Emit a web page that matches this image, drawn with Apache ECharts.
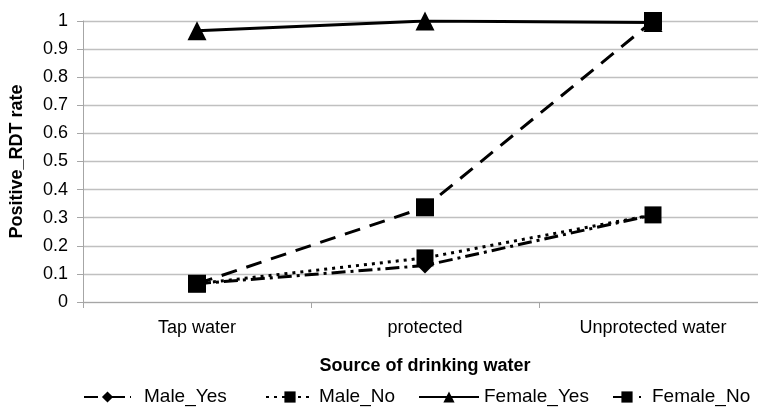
<!DOCTYPE html>
<html><head><meta charset="utf-8">
<script src="https://cdn.jsdelivr.net/npm/echarts@6/dist/echarts.min.js"></script>
<style>html,body{margin:0;padding:0;background:#fff}#c{width:758px;height:408px}</style>
</head><body><div id="c"></div>
<script>
const categories = ['Tap water', 'protected', 'Unprotected water'];
const yTicks = [0, 0.1, 0.2, 0.3, 0.4, 0.5, 0.6, 0.7, 0.8, 0.9, 1];
const maleYes = [0.065, 0.13, 0.31];
const maleNo = [0.065, 0.157, 0.31];
const femaleYes = [0.965, 1.0, 0.995];
const femaleNo = [0.065, 0.337, 1.0];
const seriesNames = ['Male_Yes', 'Male_No', 'Female_Yes', 'Female_No'];

const font = 'Liberation Sans, Arial, sans-serif';
const chart = echarts.init(document.getElementById('c'), null, {renderer: 'canvas'});
function mk(name, data, symbol, size, type, z) {
  return {
    name, type: 'line', data, symbol, symbolSize: size, z,
    lineStyle: {color: '#000', width: 3, type},
    itemStyle: {color: '#000'},
    animation: false
  };
}
function lg(name, left, w, pad) {
  return {
    data: [name], top: 383, left, itemWidth: w, itemHeight: 14, padding: 2,
    textStyle: {color: '#000', fontSize: 19, fontFamily: font, lineHeight: 24, padding: [0, 0, 0, pad]}
  };
}
chart.setOption({
  animation: false,
  grid: {left: 83, width: 684, top: 21, bottom: 106, outerBoundsMode: 'none', containLabel: false},
  xAxis: {
    type: 'category', data: categories, boundaryGap: true,
    axisLine: {lineStyle: {color: '#a6a6a6', width: 1}},
    axisTick: {show: true, alignWithLabel: false, length: 6, lineStyle: {color: '#a6a6a6'}},
    axisLabel: {color: '#000', fontSize: 18, fontFamily: font, margin: 17},
    name: 'Source of drinking water', nameLocation: 'middle', nameGap: 55,
    nameTextStyle: {color: '#000', fontSize: 18, fontWeight: 'bold', fontFamily: font}
  },
  yAxis: {
    type: 'value', min: 0, max: 1, interval: 0.1,
    axisLine: {show: true, lineStyle: {color: '#a6a6a6'}},
    axisTick: {show: true, length: 6, lineStyle: {color: '#a6a6a6'}},
    splitLine: {lineStyle: {color: '#c0c0c0', width: 1.3}},
    axisLabel: {color: '#000', fontSize: 18, fontFamily: font, margin: 15,
      formatter: v => { const t = yTicks.find(x => Math.abs(x - v) < 1e-6); return t === undefined ? '' : String(t); }},
    name: 'Positive_RDT rate', nameLocation: 'middle', nameGap: 57, nameRotate: 90,
    nameTextStyle: {color: '#000', fontSize: 18, fontWeight: 'bold', fontFamily: font}
  },
  legend: [
    lg(seriesNames[0], 81, 47, 8),
    lg(seriesNames[1], 263, 48, 0),
    lg(seriesNames[2], 416, 60, 0),
    lg(seriesNames[3], 610, 28, 6)
  ],
  series: [
    mk('Male_Yes', maleYes, 'diamond', 16, [14, 5, 3, 5], 3),
    mk('Male_No', maleNo, 'rect', 17, [3, 5], 4),
    mk('Female_Yes', femaleYes, 'triangle', 19, 'solid', 5),
    mk('Female_No', femaleNo, 'rect', 18, [16, 10], 6)
  ]
});
</script></body></html>
